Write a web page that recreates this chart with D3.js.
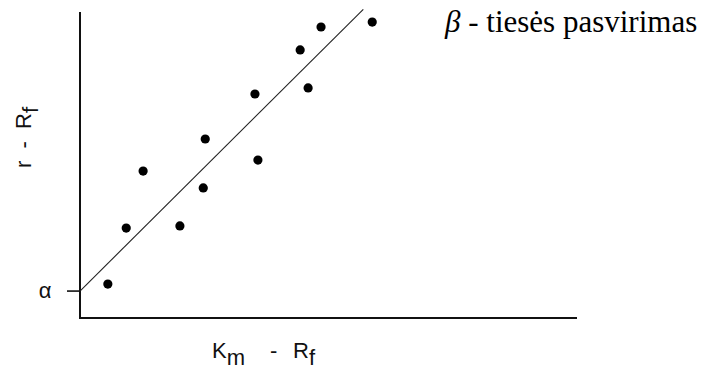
<!DOCTYPE html>
<html>
<head>
<meta charset="utf-8">
<script src="https://cdn.jsdelivr.net/npm/d3@7"></script>
<style>
  html, body { margin: 0; padding: 0; background: #fff; }
  svg { display: block; }
  .note { font-family: "Liberation Serif", "Times New Roman", Times, "DejaVu Serif", serif; }
  .lbl { font-family: "Liberation Sans", Arial, Helvetica, sans-serif; }
</style>
</head>
<body>
<svg id="chart" width="702" height="373"></svg>
<script>
// Excess market return (Km - Rf) vs. excess asset return (r - Rf)
const excessMarket = [0.56, 0.93, 1.27, 2.01, 2.48, 2.52, 3.52, 3.58, 4.43, 4.59, 4.85, 5.88];
const excessAsset  = [1.11, 2.94, 4.80, 3.01, 4.25, 5.85, 7.32, 5.16, 8.76, 7.52, 9.51, 9.67];

// Characteristic line: intercept alpha, slope beta
const alpha = 0.88;
const beta = 1.615;
const lineExtent = [0, 5.7];

const xDomain = [0, 10];
const yDomain = [0, 10];

const svg = d3.select("#chart");

const x = d3.scaleLinear().domain(xDomain).range([80, 577]);
const y = d3.scaleLinear().domain(yDomain).range([318, 12]);

const axisColor = "#111";

// Axes: plain lines, no ticks
svg.append("line")
  .attr("x1", x(xDomain[0])).attr("x2", x(xDomain[0]))
  .attr("y1", y(yDomain[1])).attr("y2", y(yDomain[0]) + 1)
  .attr("stroke", axisColor).attr("stroke-width", 2);

svg.append("line")
  .attr("x1", x(xDomain[0]) - 1).attr("x2", x(xDomain[1]))
  .attr("y1", y(yDomain[0])).attr("y2", y(yDomain[0]))
  .attr("stroke", axisColor).attr("stroke-width", 2);

// Alpha tick on the vertical axis
svg.append("line")
  .attr("x1", x(0) - 13).attr("x2", x(0))
  .attr("y1", y(alpha)).attr("y2", y(alpha))
  .attr("stroke", axisColor).attr("stroke-width", 1.6);

svg.append("text")
  .attr("class", "lbl")
  .attr("x", 45).attr("y", y(alpha))
  .attr("dy", "0.32em")
  .attr("text-anchor", "middle")
  .attr("font-size", 22)
  .attr("fill", "#111")
  .text("α");

// Regression line
svg.append("line")
  .attr("x1", x(lineExtent[0])).attr("y1", y(alpha + beta * lineExtent[0]))
  .attr("x2", x(lineExtent[1])).attr("y2", y(alpha + beta * lineExtent[1]))
  .attr("stroke", "#222").attr("stroke-width", 1.1);

// Observations
const points = excessMarket.map((v, i) => ({ x: v, y: excessAsset[i] }));
svg.selectAll("circle.obs")
  .data(points)
  .join("circle")
  .attr("class", "obs")
  .attr("cx", d => x(d.x))
  .attr("cy", d => y(d.y))
  .attr("r", 4.6)
  .attr("fill", "#000");

// X axis label: Km - Rf
const xl = svg.append("text")
  .attr("class", "lbl")
  .attr("y", 358)
  .attr("font-size", 22)
  .attr("fill", "#111");
xl.append("tspan").attr("x", 212).text("K");
xl.append("tspan").attr("dy", 7).text("m");
xl.append("tspan").attr("x", 270).attr("dy", -7).text("-");
xl.append("tspan").attr("x", 293).text("R");
xl.append("tspan").attr("dy", 7).text("f");

// Y axis label: r - Rf (rotated)
const yl = svg.append("text")
  .attr("class", "lbl")
  .attr("transform", "translate(31,168) rotate(-90)")
  .attr("font-size", 22)
  .attr("fill", "#111");
yl.append("tspan").attr("xml:space", "preserve").text("r  -  R");
yl.append("tspan").attr("dy", 7).text("f");

// Annotation for the slope
const ann = svg.append("text")
  .attr("class", "note")
  .attr("x", 445).attr("y", 32)
  .attr("font-size", 31)
  .attr("fill", "#000");
ann.append("tspan").attr("font-style", "italic").text("β");
ann.append("tspan").attr("xml:space", "preserve").text(" - tiesės pasvirimas");
</script>
</body>
</html>
